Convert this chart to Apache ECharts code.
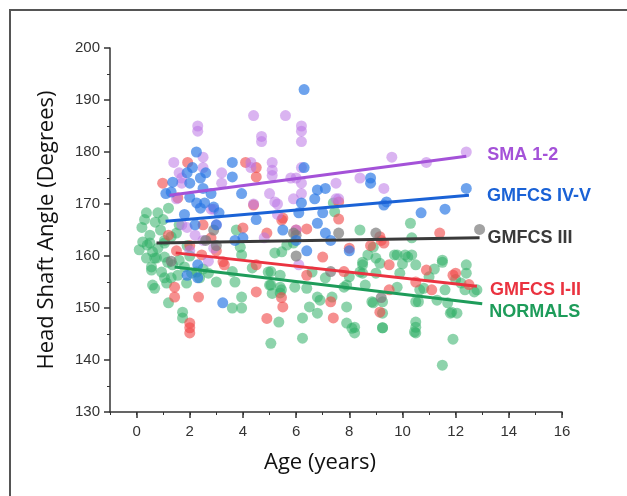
<!DOCTYPE html>
<html lang="en">
<head>
<meta charset="UTF-8">
<title>Head Shaft Angle</title>
<script src="https://cdn.jsdelivr.net/npm/echarts@6/dist/echarts.min.js"></script>
<style>
    html, body { margin: 0; padding: 0; background: #fff; }
    #chart { width: 627px; height: 496px; }
</style>
</head>
<body>
<div id="chart"></div>
<script>
// scatter data [age, angle]
var smaPts = [[1.4,178],[1.6,176],[1.7,175],[1.7,174],[2.3,185],[2.3,184],[2.5,179],[2.5,177],[3.2,176],[3.2,174],
    [2.9,169],[4.3,178],[4.3,177],[4.4,187],[4.7,183],[4.7,182],[4.4,170],[5.1,178],[5.1,176.5],[5.1,175.5],
    [5.0,172],[5.3,170],[5.3,168],[5.6,187],[5.8,175],[6.0,175],[6.2,174],[6.2,185],[6.2,184],[6.2,182],
    [6.2,177],[6.2,172],[7.5,174],[7.5,171],[8.4,175],[9.3,173],[9.6,179],[10.9,178],[12.4,180],[1.9,165.5],
    [2.2,164],[2.9,161.5],[2.8,169],[2.7,159],[1.7,166],[4.8,163.5],[6.1,158.3],[5.2,170.4],[5.9,171],[7.6,171],
    [2.0,161],[2.5,163],[3.0,166],[6.0,165],[1.5,171]];
var ivvPts = [[6.3,192],[2.25,180],[3.6,178],[1.9,176],[1.36,174.2],[3.6,175.2],[3.95,172],[1.3,172.3],[2.26,170.2],[2.9,169.4],
    [3.1,168.3],[6.2,170.2],[6.3,177],[6.7,171],[6.8,172.7],[7.1,173],[8.8,175],[8.8,174],[12.4,173],[10.7,168.3],
    [11.6,169],[9.4,170.4],[7.0,168.3],[7.1,164.4],[6.8,166.3],[7.3,163],[6.4,161],[8.0,161],[6.1,168.3],[2.4,169.2],
    [2.56,170.2],[2.0,171.3],[1.9,156.3],[2.3,155.8],[3.7,163],[4.0,163.5],[3.24,151],[1.1,172],[2.0,174],[2.6,176],
    [2.4,175],[2.8,172],[1.8,168],[2.2,166],[3.0,166],[4.5,167],[5.5,165],[6.0,163],[9.3,169.8],[2.3,158.3],
    [2.1,177],[2.5,173]];
var iiiPts = [[2.9,165],[2.6,163],[5.9,164.4],[6.0,164],[6.0,160],[7.6,164.4],[9.0,164.4],[12.9,165.1],[3.0,162],[7.3,157],
    [9.2,152],[1.3,159]];
var iiPts = [[1.92,178],[0.98,174],[1.55,171.2],[4.1,178],[4.5,177],[4.5,175.2],[5.5,167.3],[4.0,165.4],[6.0,165],[6.4,165.2],
    [4.9,164.4],[7.6,170.4],[7.6,167.1],[11.4,164.4],[9.2,163],[9.5,158.3],[10.9,157.3],[12.0,156.7],[9.3,162.5],[9.15,163.7],
    [9.5,153.5],[7.4,148.1],[9.15,149.2],[11.1,153.5],[11.9,156.3],[8.0,161.5],[1.43,154],[1.43,152.1],[2.0,147.1],[2.0,146.2],
    [2.0,145.2],[2.33,152.1],[4.5,153.1],[4.9,148],[5.5,150.2],[5.45,152],[2.45,160.2],[3.25,158.9],[7.3,151.2],[5.46,166.9],
    [6.4,156.3],[7.0,159.8],[4.4,169.8],[3.3,158.3],[4.5,158.3],[1.5,161],[2.0,162],[2.8,163.5],[3.0,161],[1.2,164],
    [2.5,166],[7.8,157],[10.5,155],[12.5,154.5],[8.8,162]];
var normPts = [[0.37,168.3],[0.8,168.3],[1.2,169.2],[0.7,166.5],[0.5,164],[0.9,165],[0.4,162.1],[0.6,160.8],[1.05,162.5],[1.3,163.7],
    [1.5,164.4],[0.75,159.6],[0.37,159.6],[1.05,159.8],[0.56,157.9],[0.94,156.9],[1.3,155.8],[1.13,154.8],[0.68,153.8],[1.35,158.3],
    [1.8,157.9],[2.26,156.9],[2.7,156.7],[0.23,162.7],[0.1,161.2],[0.5,162.5],[0.68,159.6],[0.56,157.3],[0.6,154.4],[1.05,155.8],
    [1.55,156.3],[0.8,161.5],[1.17,158.8],[1.6,159.2],[1.05,163],[0.2,165.5],[0.3,167],[1.0,167],[1.6,166],[1.9,162],
    [2.0,160],[1.2,151],[1.73,149.2],[1.73,148.1],[1.88,154.8],[2.07,156.7],[2.37,155.8],[2.5,157.5],[3.0,155],[3.6,150],
    [3.95,150],[3.95,152.1],[3.6,157],[3.95,160.2],[3.7,155],[3.75,165],[3.9,161.7],[4.35,157.7],[5.05,143.2],[5.35,147.3],
    [6.24,144.2],[6.24,148.1],[6.5,150.2],[6.4,153.8],[5.95,154],[5.4,152.9],[5.05,154.4],[5.05,157],[5.4,154],[5.9,162.5],
    [6.8,152.1],[6.8,149],[7.35,152.1],[7.9,150.2],[7.9,147.1],[8.2,146.3],[8.2,145.2],[8.9,151],[9.25,149],[9.25,146.2],
    [10.5,147.3],[10.5,146.3],[10.5,145.2],[10.6,151.2],[11.8,149],[12.05,149],[11.9,144],[11.5,139],[12.7,153.1],[12.35,153.5],
    [11.6,153.5],[11.3,151.5],[5.1,152.8],[5.45,153.5],[10.8,153.8],[9.8,154],[8.6,154.4],[7.8,154],[12.2,154.8],[10.35,160.2],
    [9.8,160.2],[10.2,159.8],[10.5,158.3],[11.5,158.8],[12.4,158.3],[12.4,156.7],[12.8,153.5],[8.5,158.3],[8.5,156.7],[9.0,159.6],
    [9.15,158.6],[9.0,156.7],[8.0,156],[9.9,156.7],[10.65,153.5],[10.5,151.2],[9.25,151.2],[8.85,151.2],[8.1,146.1],[9.25,146.2],
    [10.45,145.4],[11.85,149.2],[6.9,151.5],[10.3,166.3],[10.35,163.5],[11.5,159.2],[9.7,160.2],[10.1,160.2],[7.4,170.2],[7.45,168.5],
    [8.4,165],[8.5,158.8],[8.4,156.9],[4.95,156.9],[5.0,154.4],[5.4,156.3],[6.6,156.9],[7.1,155.8],[7.9,154.4],[5.46,160.8],
    [5.2,160.6],[5.65,162.1],[8.7,160.2],[8.9,161.7],[11.0,156],[11.2,157.5],[12.0,155.5],[10.0,158.5],[11.7,151]];

// regression lines (start, end)
var smaFit = [[1.24,171.7],[12.4,179.2]];
var ivvFit = [[1.09,166.7],[12.5,171.7]];
var iiiFit = [[0.75,162.5],[12.9,163.5]];
var iiFit = [[1.47,160.6],[12.8,154.2]];
var normFit = [[1.43,157.9],[13.0,150.8]];

var xTicks = [0, 2, 4, 6, 8, 10, 12, 14, 16];

var myChart = echarts.init(document.getElementById('chart'));

function dots(name, data, color, op) {
    return {
        name: name, type: 'scatter', data: data, symbolSize: 11,
        xAxisIndex: 0, yAxisIndex: 0,
        itemStyle: { color: color, opacity: op }, z: 2
    };
}
function fit(name, data, color, dist, dy) {
    return {
        name: name, type: 'line', data: data, symbol: 'none',
        xAxisIndex: 0, yAxisIndex: 0,
        lineStyle: { color: color, width: 3 }, z: 5,
        endLabel: {
            show: true, formatter: '{a}', distance: dist, offset: [0, dy],
            color: color, fontSize: 18, fontWeight: 'bold', fontFamily: 'Liberation Sans'
        }
    };
}

myChart.setOption({
    animation: false,
    graphic: [{
        type: 'rect', shape: { x: 10, y: 10, width: 700, height: 600 },
        style: { fill: 'none', stroke: '#555', lineWidth: 2 }, silent: true
    }],
    grid: [
        { left: 110, right: 65, top: 48, bottom: 84 },
        { left: 110 + 452 / 17, right: 65, top: 48, bottom: 84 }
    ],
    xAxis: [{
        gridIndex: 0, type: 'value', min: -1, max: 16, interval: 1,
        axisLine: { show: true, onZero: false, lineStyle: { color: '#333', width: 1.5 } },
        axisTick: { show: true, length: 3, lineStyle: { color: '#333' } },
        axisLabel: { show: false },
        splitLine: { show: false },
        name: 'Age (years)', nameLocation: 'middle', nameGap: 40,
        nameTextStyle: { color: '#111', fontSize: 22, fontFamily: 'Open Sans', padding: [0, 32, 0, 0] }
    }, {
        gridIndex: 1, type: 'value', min: xTicks[0], max: xTicks[xTicks.length - 1], interval: 2,
        axisLine: { show: false, onZero: false },
        axisTick: { show: true, length: 6, lineStyle: { color: '#333', width: 1.5 } },
        axisLabel: { color: '#333', fontSize: 15, margin: 12, fontFamily: 'Liberation Sans' },
        splitLine: { show: false }
    }],
    yAxis: [{
        gridIndex: 0, type: 'value', min: 130, max: 200, interval: 10,
        axisLine: { show: true, onZero: false, lineStyle: { color: '#333', width: 1.5 } },
        axisTick: { show: true, length: 6, lineStyle: { color: '#333', width: 1.5 } },
        minorTick: { show: true, splitNumber: 2, length: 3, lineStyle: { color: '#333' } },
        axisLabel: { color: '#333', fontSize: 15, margin: 10, fontFamily: 'Liberation Sans' },
        splitLine: { show: false },
        name: 'Head Shaft Angle (Degrees)', nameLocation: 'middle', nameGap: 52,
        nameTextStyle: { color: '#111', fontSize: 22, fontFamily: 'Open Sans' }
    }, {
        gridIndex: 1, type: 'value', min: 130, max: 200, show: false
    }],
    series: [
        dots('NORMALS', normPts, '#2fae66', 0.55),
        dots('GMFCS I-II', iiPts, '#f04a4a', 0.62),
        dots('SMA 1-2', smaPts, '#bb77e6', 0.55),
        dots('GMFCS III', iiiPts, '#7a7a7a', 0.7),
        dots('GMFCS IV-V', ivvPts, '#2a78e4', 0.68),
        fit('SMA 1-2', smaFit, '#a452d8', 21, -1),
        fit('GMFCS IV-V', ivvFit, '#1a62d6', 18, 1),
        fit('GMFCS III', iiiFit, '#3a3a3a', 8, 0),
        fit('GMFCS I-II', iiFit, '#ea3340', 13, 4),
        fit('NORMALS', normFit, '#1e9c5a', 7, 8)
    ]
});
</script>
</body>
</html>
